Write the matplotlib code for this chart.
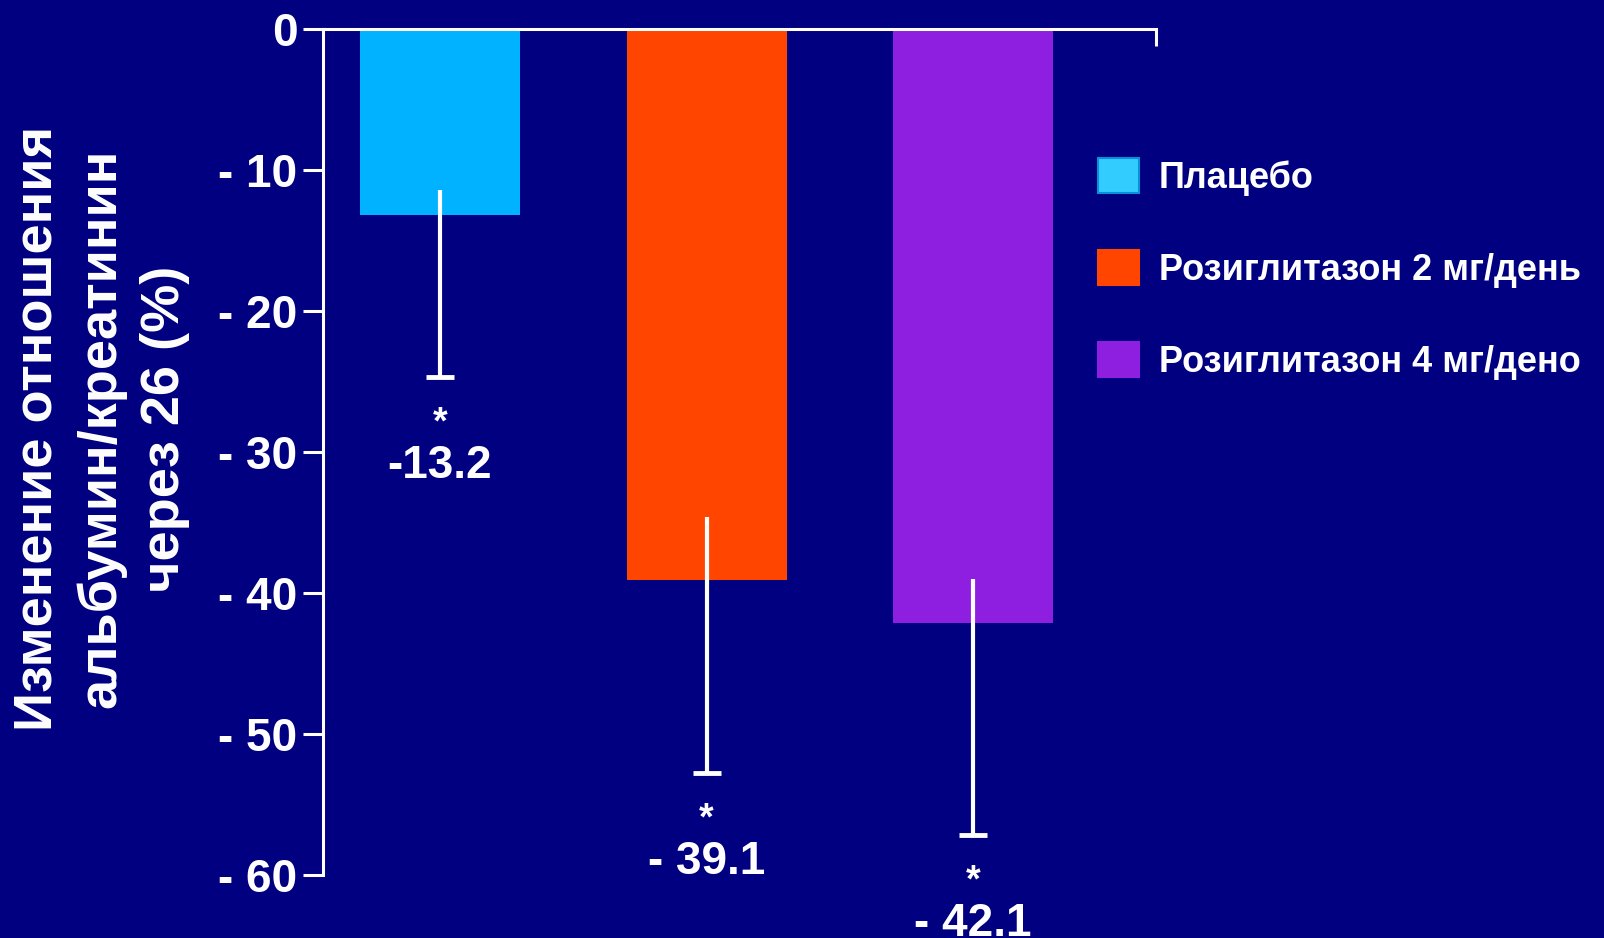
import matplotlib
matplotlib.use("Agg")
import matplotlib.pyplot as plt
from matplotlib import font_manager
from matplotlib.patches import Patch

# ---- data ----
categories = ["Плацебо", "Розиглитазон 2 мг/день", "Розиглитазон 4 мг/дено"]
values = [-13.2, -39.1, -42.1]
ci_upper = [-11.4, -34.6, -39.0]
ci_lower = [-24.7, -52.8, -57.2]
value_labels = ["-13.2", "- 39.1", "- 42.1"]
yticks = [0, -10, -20, -30, -40, -50, -60]
ytick_labels = ["0", "- 10", "- 20", "- 30", "- 40", "- 50", "- 60"]
ylabel_text = "Изменение отношения\nальбумин/креатинин\nчерез 26 (%)"

# ---- style ----
BG = "#000080"
bar_colors = ["#00B2FF", "#FF4500", "#8E1FE0"]
legend_colors = ["#33CCFF", "#FF4500", "#8E1FE0"]
plt.rcParams["font.family"] = ["Liberation Sans", "DejaVu Sans"]
plt.rcParams["font.weight"] = "bold"


def has_font(name):
    try:
        font_manager.findfont(font_manager.FontProperties(family=name),
                              fallback_to_default=False)
        return True
    except Exception:
        return False


if has_font("Liberation Sans Narrow"):
    legend_family = ["Liberation Sans Narrow", "DejaVu Sans"]
    legend_size = 33
else:
    legend_family = ["Liberation Sans", "DejaVu Sans"]
    legend_size = 26

fig = plt.figure(figsize=(16.04, 9.38), dpi=100, facecolor=BG)
ax = fig.add_axes([0.2014, 0.0672, 0.5193, 0.9019])
ax.set_facecolor(BG)

x = list(range(len(categories)))
ax.bar(x, values, width=0.6, color=bar_colors, zorder=2)

# error bars: stem + bottom cap only
ax.vlines(x, ci_lower, ci_upper, colors="white", linewidth=3.0, zorder=3)
ax.plot(x, ci_lower, linestyle="none", marker="_", markersize=20,
        markeredgewidth=3.5, color="white", zorder=3)

for xi, lo, lab in zip(x, ci_lower, value_labels):
    ax.annotate("*", xy=(xi, lo), xytext=(0, -33), textcoords="offset points",
                ha="center", va="center", fontsize=27, fontweight="bold",
                color="white", annotation_clip=False)
    ax.annotate(lab, xy=(xi, lo), xytext=(0, -64), textcoords="offset points",
                ha="center", va="center", fontsize=33, fontweight="bold",
                color="white", annotation_clip=False)

ax.set_ylim(-60, 0)
ax.set_xlim(-0.439, 2.686)
ax.set_yticks(yticks)
ax.set_yticklabels(ytick_labels)
ax.tick_params(axis="y", direction="out", length=14.5, width=2.2, color="white",
               labelcolor="white", labelsize=33, pad=4)
for lbl in ax.get_yticklabels():
    lbl.set_fontweight("bold")

ax.xaxis.set_ticks_position("top")
ax.set_xticks([2.686])
ax.tick_params(axis="x", direction="in", length=12, width=2.2, color="white",
               labeltop=False, labelbottom=False)

for s in ["right", "bottom"]:
    ax.spines[s].set_visible(False)
for s in ["left", "top"]:
    ax.spines[s].set_color("white")
    ax.spines[s].set_linewidth(2.2)

fig.text(0.063, 0.543, ylabel_text, rotation=90, ha="center", va="center",
         multialignment="center", fontsize=39, fontweight="bold", color="white",
         linespacing=1.35)

fs_px = legend_size * 100 / 72
handles = [Patch(facecolor=c, edgecolor=("#0a8fd8" if i == 0 else c), linewidth=1.5)
           for i, c in enumerate(legend_colors)]
leg = fig.legend(handles, categories, loc="upper left",
                 bbox_to_anchor=(0.6845, 0.832), frameon=False, borderpad=0,
                 prop={"family": legend_family, "size": legend_size, "weight": "bold"},
                 handlelength=41 / fs_px, handleheight=41 / fs_px,
                 handletextpad=0.55, labelspacing=1.5, borderaxespad=0)
for t in leg.get_texts():
    t.set_color("white")

fig.savefig("out.png", dpi=100, facecolor=BG)
